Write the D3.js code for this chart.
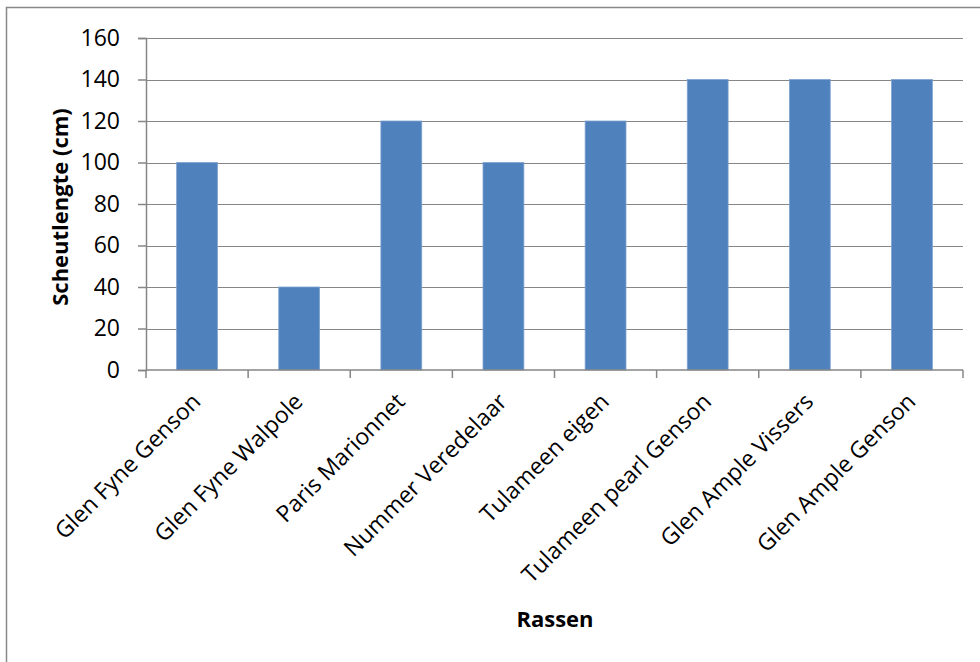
<!DOCTYPE html>
<html>
<head>
<meta charset="utf-8">
<script src="https://cdn.jsdelivr.net/npm/d3@7"></script>
<style>
  html, body { margin: 0; padding: 0; background: #fff; }
  svg { display: block; }
  text { font-family: "Open Sans", "Liberation Sans", sans-serif; fill: #000; }
</style>
</head>
<body>
<svg id="chart" width="980" height="662"></svg>
<script>
// Shoot length per raspberry variety
const categories = [
  "Glen Fyne Genson",
  "Glen Fyne Walpole",
  "Paris Marionnet",
  "Nummer Veredelaar",
  "Tulameen eigen",
  "Tulameen pearl Genson",
  "Glen Ample Vissers",
  "Glen Ample Genson"
];
const values = [100, 40, 120, 100, 120, 140, 140, 140];
const yTicks = [0, 20, 40, 60, 80, 100, 120, 140, 160];
const yTitle = "Scheutlengte (cm)";
const xTitle = "Rassen";

const svg = d3.select("#chart");
const margin = { left: 146, right: 17, top: 38, bottom: 292 };
const W = 980, H = 662;

// outer chart frame
svg.append("rect")
  .attr("x", 6.5).attr("y", 7.5)
  .attr("width", 980).attr("height", 680)
  .attr("fill", "none").attr("stroke", "#888").attr("stroke-width", 1.5);

const x = d3.scaleBand()
  .domain(categories)
  .range([margin.left, W - margin.right])
  .paddingInner(0.6)
  .paddingOuter(0.3);

const y = d3.scaleLinear()
  .domain([0, 160])
  .range([H - margin.bottom, margin.top]);

// horizontal gridlines
svg.append("g")
  .selectAll("line")
  .data(yTicks.filter(d => d > 0))
  .join("line")
  .attr("x1", margin.left).attr("x2", W - margin.right)
  .attr("y1", d => Math.round(y(d)) + 0.5).attr("y2", d => Math.round(y(d)) + 0.5)
  .attr("stroke", "#868686").attr("stroke-width", 1.2);

// bars
svg.append("g")
  .selectAll("rect")
  .data(values)
  .join("rect")
  .attr("x", (d, i) => x(categories[i]))
  .attr("y", d => y(d))
  .attr("width", x.bandwidth())
  .attr("height", d => y(0) - y(d))
  .attr("fill", "#4F81BD")
  .attr("stroke", "#7FA3D0")
  .attr("stroke-width", 0.8);

// y axis
const yAxis = svg.append("g")
  .attr("transform", `translate(${margin.left},0)`)
  .call(d3.axisLeft(y).tickValues(yTicks).tickSize(8).tickPadding(18));
yAxis.attr("font-size", null).attr("font-family", null);
yAxis.select(".domain").attr("stroke", "#868686").attr("stroke-width", 1.5);
yAxis.selectAll(".tick line").attr("stroke", "#868686").attr("stroke-width", 1.5);
yAxis.selectAll(".tick text")
  .style("font-size", "23px")
  .style("font-family", "'Open Sans', sans-serif")
  .attr("fill", "#000");

// x axis with ticks at category boundaries
const xAxisY = y(0);
const xg = svg.append("g");
xg.append("line")
  .attr("x1", margin.left).attr("x2", W - margin.right)
  .attr("y1", xAxisY).attr("y2", xAxisY)
  .attr("stroke", "#868686").attr("stroke-width", 1.5);
const step = x.step();
const bounds = d3.range(categories.length + 1).map(i => margin.left + i * step);
xg.selectAll("line.tk")
  .data(bounds)
  .join("line")
  .attr("class", "tk")
  .attr("x1", d => d).attr("x2", d => d)
  .attr("y1", xAxisY).attr("y2", xAxisY + 8)
  .attr("stroke", "#868686").attr("stroke-width", 1.5);

// rotated category labels
svg.append("g")
  .selectAll("text")
  .data(categories)
  .join("text")
  .attr("transform", d => `translate(${x(d) + x.bandwidth() / 2 + 5},${xAxisY + 33}) rotate(-45)`)
  .attr("text-anchor", "end")
  .style("font-size", "23px")
  .text(d => d);

// axis titles
svg.append("text")
  .attr("transform", `translate(68,${(y(0) + y(160)) / 2 + 3}) rotate(-90)`)
  .attr("text-anchor", "middle")
  .style("font-size", "22px")
  .attr("font-weight", "bold")
  .text(yTitle);

svg.append("text")
  .attr("x", 555).attr("y", 627)
  .attr("text-anchor", "middle")
  .style("font-size", "22px")
  .attr("font-weight", "bold")
  .text(xTitle);
</script>
</body>
</html>
